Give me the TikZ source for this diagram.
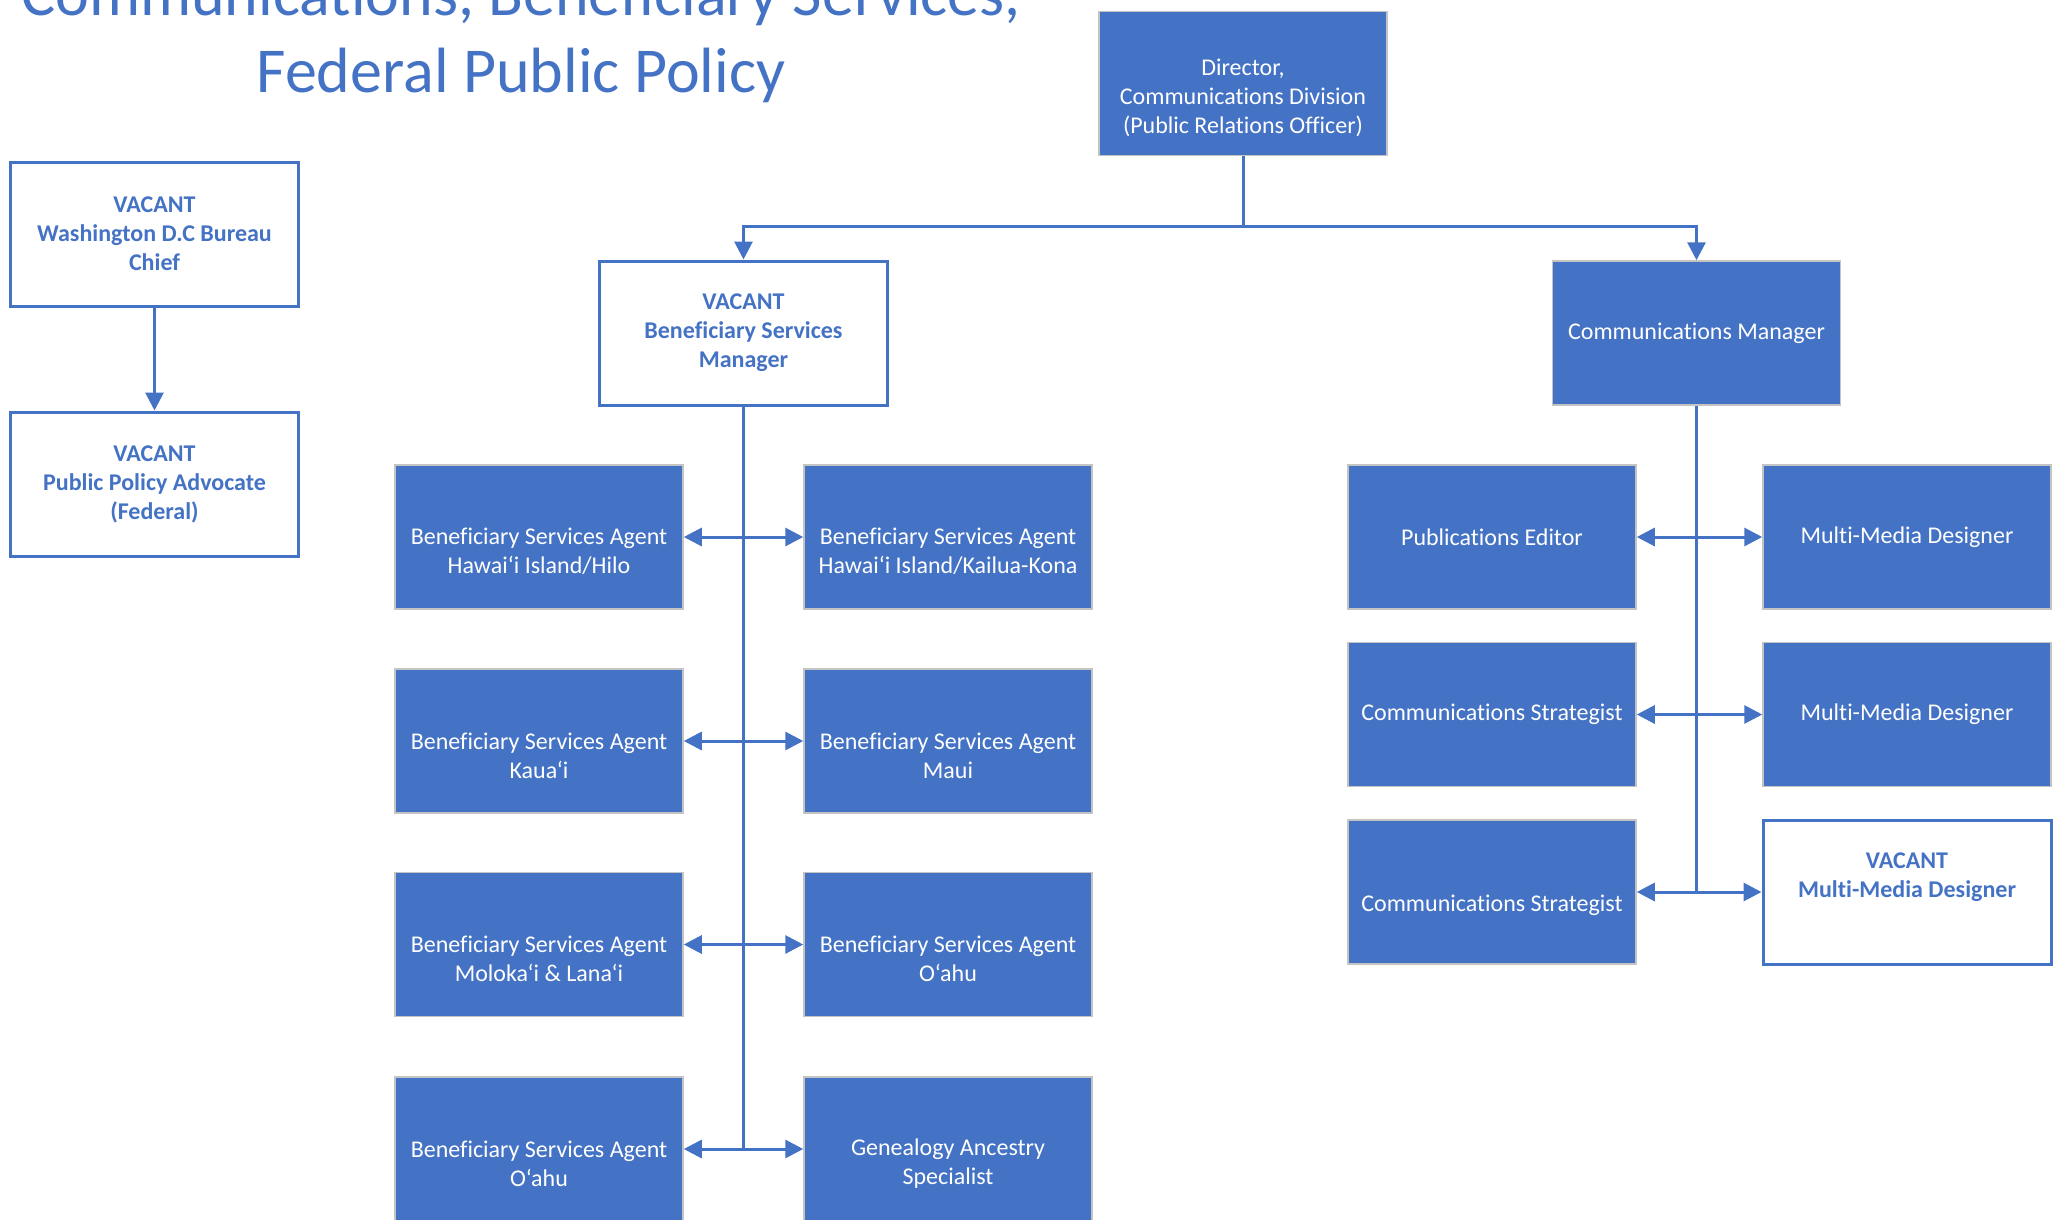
\documentclass[tikz,border=0pt]{standalone}
\usepackage{fontspec}
\setmainfont{Carlito}[RawFeature=-liga]
\usetikzlibrary{arrows.meta}
\definecolor{ofblue}{HTML}{4472C4}
\definecolor{edgegrey}{HTML}{C4C4C4}
\newcommand{\orgbox}[5]{\node[#1, label={[#1 text, yshift=#4]center:{#5}}] (#2) at (#3) {};}
\begin{document}
\begin{tikzpicture}[x=1pt,y=-1pt,
  box/.style={rectangle, minimum width=288pt, minimum height=144pt, inner sep=0pt},
  filled/.style={box, fill=ofblue, draw=edgegrey, line width=1.5pt},
  vacant/.style={box, fill=white, draw=ofblue, line width=3pt},
  filled text/.style={text=white, align=center, inner sep=0pt, font=\fontsize{24}{29}\selectfont},
  vacant text/.style={text=ofblue, align=center, inner sep=0pt, font=\fontsize{24}{29}\selectfont\bfseries},
  conn/.style={draw=ofblue, line width=3pt},
  tip/.style={-{Triangle[length=18pt,width=18pt]}},
  both/.style={{Triangle[length=18pt,width=18pt]}-{Triangle[length=18pt,width=18pt]}},
  titlef/.style={text=ofblue, font=\fontsize{64}{77}\selectfont, inner sep=0pt, anchor=base}
]
\useasboundingbox (0,0) rectangle (2059,1219);

% title
\node[titlef] (title1) at (521,15) {Communications, Beneficiary Services,};
\node[titlef] (title2) at (521,92) {Federal Public Policy};

% top
\orgbox{filled}{dir}{1243,83.5}{-14pt}{Director,\\Communications Division\\(Public Relations Officer)}
\orgbox{vacant}{bureau}{154.5,234}{0pt}{VACANT\\Washington D.C Bureau\\Chief}
\orgbox{vacant}{ppa}{154.5,484}{0pt}{VACANT\\Public Policy Advocate\\(Federal)}
\orgbox{vacant}{bsm}{743.5,333}{0pt}{VACANT\\Beneficiary Services\\Manager}
\orgbox{filled}{cm}{1696.5,333}{0pt}{Communications Manager}

% beneficiary services cluster
\orgbox{filled}{l1}{539,537}{-14.5pt}{Beneficiary Services Agent\\Hawai‘i Island/Hilo}
\orgbox{filled}{r1}{948,537}{-14.5pt}{Beneficiary Services Agent\\Hawai‘i Island/Kailua-Kona}
\orgbox{filled}{l2}{539,741}{-14.5pt}{Beneficiary Services Agent\\Kaua‘i}
\orgbox{filled}{r2}{948,741}{-14.5pt}{Beneficiary Services Agent\\Maui}
\orgbox{filled}{l3}{539,944.5}{-14.5pt}{Beneficiary Services Agent\\Moloka‘i \& Lana‘i}
\orgbox{filled}{r3}{948,944.5}{-14.5pt}{Beneficiary Services Agent\\O‘ahu}
\orgbox{filled}{l4}{539,1149}{-14.5pt}{Beneficiary Services Agent\\O‘ahu}
\orgbox{filled}{r4}{948,1149}{-14.5pt}{Genealogy Ancestry\\Specialist}

% communications cluster
\orgbox{filled}{p1}{1492,537}{0pt}{Publications Editor}
\orgbox{filled}{q1}{1907,537}{0pt}{Multi-Media Designer}
\orgbox{filled}{p2}{1492,714.5}{0pt}{Communications Strategist}
\orgbox{filled}{q2}{1907,714.5}{0pt}{Multi-Media Designer}
\orgbox{filled}{p3}{1492,892}{-13pt}{Communications Strategist}
\orgbox{vacant}{q3}{1907,892}{14.5pt}{VACANT\\Multi-Media Designer}

% connectors
\coordinate (jtop) at (1243,226);
\draw[conn] (dir.south) -- (jtop);
\draw[conn,tip] (jtop) -| (bsm.north);
\draw[conn,tip] (jtop) -| (cm.north);
\draw[conn,tip] (bureau.south) -- (ppa.north);

\draw[conn] (bsm.south) -- (bsm.south |- l4.east);
\draw[conn,both] (l1.east) -- (r1.west);
\draw[conn,both] (l2.east) -- (r2.west);
\draw[conn,both] (l3.east) -- (r3.west);
\draw[conn,both] (l4.east) -- (r4.west);

\draw[conn] (cm.south) -- (cm.south |- p3.east);
\draw[conn,both] (p1.east) -- (q1.west);
\draw[conn,both] (p2.east) -- (q2.west);
\draw[conn,both] (p3.east) -- (q3.west);
\end{tikzpicture}
\end{document}
